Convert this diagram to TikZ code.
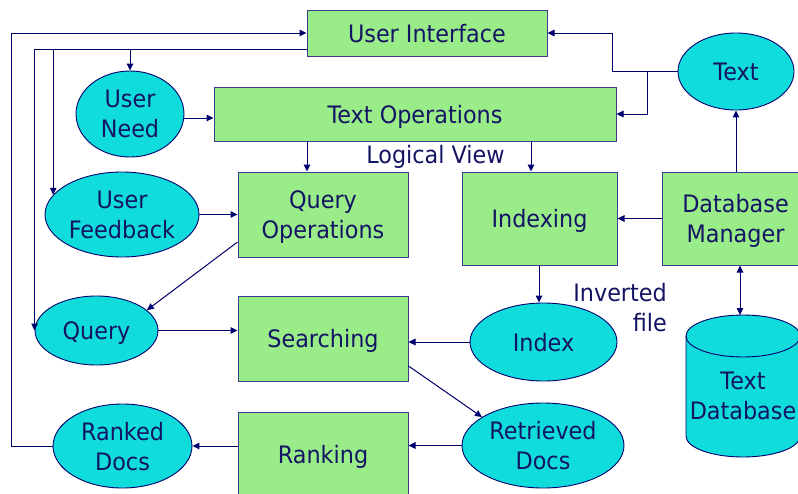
\documentclass[tikz,border=0pt]{standalone}
\usepackage{fontspec}
\setmainfont{DejaVu Sans}[FakeStretch=0.93]
\usetikzlibrary{arrows.meta,shapes.geometric,calc}
\definecolor{navy}{RGB}{0,0,110}
\definecolor{txt}{RGB}{20,20,100}
\definecolor{boxg}{RGB}{153,236,136}
\definecolor{cyanf}{RGB}{17,220,220}
\definecolor{bord}{RGB}{60,60,140}
\begin{document}
\begin{tikzpicture}[x=1pt,y=1pt,
  font=\fontsize{24}{30}\selectfont, text=txt,
  procbox/.style={draw=bord, line width=1pt, fill=boxg, align=center, inner sep=0pt, text depth=0pt},
  datael/.style={ellipse, draw=navy, line width=0.9pt, fill=cyanf, align=center, inner sep=0pt, text depth=0pt},
  link/.style={draw=navy, line width=1pt},
  arr/.style={link, -{Triangle[length=7pt,width=6.5pt]}},
  darr/.style={link, {Triangle[length=7pt,width=6.5pt]}-{Triangle[length=7pt,width=6.5pt]}}
]
\useasboundingbox (0,0) rectangle (798,-493);
\fill[white] (0,0) rectangle (798,-493);

% process boxes
\node[procbox, minimum width=240pt, minimum height=46pt] (ui) at (427,-33) {User Interface};
\node[procbox, minimum width=402pt, minimum height=54pt] (textops) at (415,-114) {Text Operations};
\node[procbox, minimum width=170pt, minimum height=85pt] (queryops) at (323,-214.5) {Query\\Operations};
\node[procbox, minimum width=155pt, minimum height=93pt] (indexing) at (539.5,-218.5) {Indexing};
\node[procbox, minimum width=147pt, minimum height=93pt] (dbm) at (735.5,-218.5) {Database\\Manager};
\node[procbox, minimum width=170pt, minimum height=85pt] (searching) at (323,-338.5) {Searching};
\node[procbox, minimum width=170pt, minimum height=85pt] (ranking) at (323,-454.5) {Ranking};

% data ellipses
\node[datael, minimum width=108pt, minimum height=86pt] (userneed) at (130,-114) {User\\Need};
\node[datael, minimum width=154pt, minimum height=85pt] (userfb) at (122,-214.5) {User\\Feedback};
\node[datael, minimum width=123pt, minimum height=69pt] (query) at (96.5,-330.5) {Query};
\node[datael, minimum width=139pt, minimum height=84pt] (ranked) at (122.5,-446) {Ranked\\Docs};
\node[datael, minimum width=116pt, minimum height=77pt] (text) at (736,-71.5) {Text};
\node[datael, minimum width=147pt, minimum height=78pt] (index) at (543.5,-342) {Index};
\node[datael, minimum width=162pt, minimum height=85pt] (retr) at (543,-445.5) {Retrieved\\Docs};

% text database cylinder
\path[draw=navy, line width=0.9pt, fill=cyanf] (686,-336) -- (686,-436)
  arc[start angle=180,end angle=360,x radius=57pt,y radius=21pt] -- (800,-336)
  arc[start angle=0,end angle=180,x radius=57pt,y radius=21pt] -- cycle;
\draw[navy, line width=0.9pt] (686,-336) arc[start angle=180,end angle=360,x radius=57pt,y radius=21pt];
\node[align=center, inner sep=0pt, text depth=0pt] (textdb) at (743,-396) {Text\\Database};
\coordinate (dbtop) at (740,-315);

% free labels
\node[anchor=base, inner sep=0pt] (logview) at (435.5,-163) {Logical View};
\node[anchor=east, inner sep=0pt, align=right] (invfile) at (667,-308) {Inverted\\file};

% connectors
\coordinate (ui49) at ($(ui.south west)+(0,7)$);
\draw[arr] (ranked.west) -| (11,-33) -- (ui.west);
\draw[arr] (ui49) -| (query.west);
\draw[arr] (userfb.164.7 |- ui49) -- (userfb.164.7);
\draw[arr] (userneed.north |- ui49) -- (userneed.north);
\draw[arr] (text.west) -- (612,-71.5) |- (ui.east);
\draw[arr] ($(text.west)+(-30,0)$) |- (textops.east);
\draw[arr] ($(userneed.east)+(0,-4)$) -- ($(userneed.east -| textops.west)+(0,-4)$);
\draw[arr] (textops.south -| 307,0) -- (queryops.north -| 307,0);
\draw[arr] (textops.south -| 531,0) -- (indexing.north -| 531,0);
\draw[arr] (userfb.east) -- (userfb.east -| queryops.west);
\draw[arr] (queryops.west |- 0,-242) -- (query.22);
\draw[arr] (query.east) -- (query.east -| searching.west);
\draw[arr] (index.west) -- (index.west -| searching.east);
\draw[arr] (searching.east |- 0,-366) -- (retr.155);
\draw[arr] (retr.west) -- (retr.west -| ranking.east);
\draw[arr] (ranking.west |- ranked.east) -- (ranked.east);
\draw[arr] (indexing.south -| 539,0) -- (index.north -| 539,0);
\draw[arr] (dbm.west |- indexing.east) -- (indexing.east);
\draw[arr] (text.south |- dbm.north) -- (text.south);
\draw[darr] (dbm.south -| dbtop) -- (dbtop);
\end{tikzpicture}
\end{document}
